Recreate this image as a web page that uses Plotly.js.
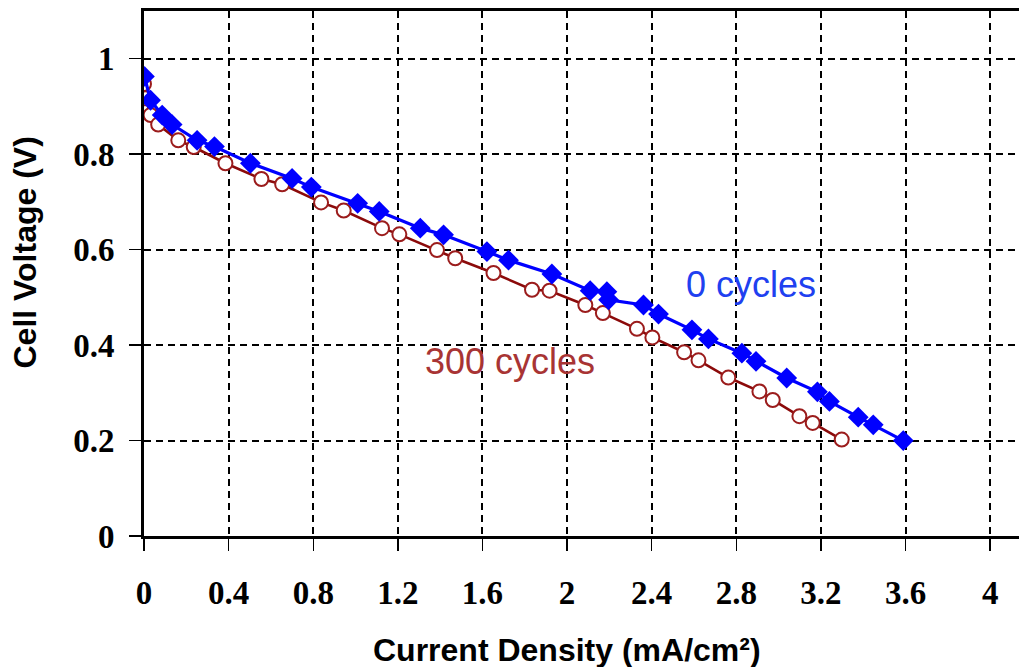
<!DOCTYPE html>
<html>
<head>
<meta charset="utf-8">
<script src="https://cdn.plot.ly/plotly-3.0.1.min.js"></script>
<style>html,body{margin:0;padding:0;background:#fff;}#chart{width:1019px;height:667px;}</style>
</head>
<body>
<div id="chart"></div>
<script>
// 0 cycles
const current0 = [0.002, 0.031, 0.086, 0.133, 0.251, 0.333, 0.503, 0.700, 0.791, 1.010, 1.112, 1.306, 1.416, 1.621, 1.723, 1.928, 2.109, 2.188, 2.196, 2.361, 2.432, 2.590, 2.668, 2.826, 2.893, 3.038, 3.183, 3.240, 3.376, 3.447, 3.589];
const voltage0 = [0.963, 0.913, 0.882, 0.862, 0.829, 0.816, 0.781, 0.749, 0.731, 0.697, 0.680, 0.645, 0.631, 0.596, 0.578, 0.549, 0.514, 0.512, 0.495, 0.484, 0.465, 0.432, 0.413, 0.383, 0.366, 0.331, 0.302, 0.282, 0.249, 0.233, 0.200];
// 300 cycles
const current300 = [0.000, 0.007, 0.031, 0.067, 0.162, 0.235, 0.385, 0.555, 0.653, 0.837, 0.944, 1.125, 1.207, 1.385, 1.471, 1.652, 1.834, 1.917, 2.086, 2.169, 2.330, 2.403, 2.553, 2.621, 2.762, 2.909, 2.972, 3.098, 3.161, 3.298];
const voltage300 = [0.947, 0.917, 0.882, 0.862, 0.829, 0.815, 0.781, 0.748, 0.737, 0.699, 0.682, 0.645, 0.632, 0.599, 0.582, 0.551, 0.516, 0.514, 0.484, 0.467, 0.434, 0.416, 0.385, 0.368, 0.332, 0.303, 0.285, 0.251, 0.237, 0.202];

const xTicks = [0, 0.4, 0.8, 1.2, 1.6, 2, 2.4, 2.8, 3.2, 3.6, 4];
const xTickText = ['0', '0.4', '0.8', '1.2', '1.6', '2', '2.4', '2.8', '3.2', '3.6', '4'];
const yTicks = [0, 0.2, 0.4, 0.6, 0.8, 1];
const yTickText = ['0', '0.2', '0.4', '0.6', '0.8', '1'];

const seriesLabels = ['0 cycles', '300 cycles'];

const traces = [
  {
    x: current300, y: voltage300, mode: 'lines+markers', name: seriesLabels[1],
    line: {color: '#8b0a0a', width: 2.6},
    marker: {symbol: 'circle', size: 14, color: '#ffffff', line: {color: '#9b1c1c', width: 2}}
  },
  {
    x: current0, y: voltage0, mode: 'lines+markers', name: seriesLabels[0],
    line: {color: '#0000ff', width: 3.2},
    marker: {symbol: 'diamond', size: 16, color: '#0000ff', line: {width: 0}}
  }
];

const tickFont = {family: 'Liberation Serif, Times New Roman, serif', size: 33, color: '#000', weight: 'bold'};

const layout = {
  width: 1019, height: 667,
  margin: {l: 143.5, r: 0, t: 11, b: 130.5, pad: 0},
  paper_bgcolor: '#fff', plot_bgcolor: '#fff',
  showlegend: false,
  xaxis: {
    range: [0, 4.136], tickvals: xTicks, ticktext: xTickText,
    showline: true, linecolor: '#000', linewidth: 3, mirror: true,
    ticks: 'outside', ticklen: 12, tickwidth: 1.5, tickcolor: '#000',
    showgrid: true, gridcolor: '#000', gridwidth: 2, griddash: '7px,5px',
    zeroline: false, tickfont: tickFont, ticklabelstandoff: 13
  },
  yaxis: {
    range: [0, 1.1], tickvals: yTicks, ticktext: yTickText,
    showline: true, linecolor: '#000', linewidth: 3,
    ticks: 'outside', ticklen: 12, tickwidth: 1.5, tickcolor: '#000',
    showgrid: true, gridcolor: '#000', gridwidth: 2, griddash: '7px,5px',
    zeroline: false, tickfont: tickFont, ticklabelstandoff: 8
  },
  annotations: [
    {x: 0.4834, y: -0.218, xref: 'paper', yref: 'paper', text: 'Current Density (mA/cm²)', showarrow: false,
     font: {family: 'Liberation Sans, Arial, sans-serif', size: 32, color: '#000', weight: 'bold'}, xanchor: 'center', yanchor: 'middle'},
    {x: -0.136, y: 0.54, xref: 'paper', yref: 'paper', text: 'Cell Voltage (V)', textangle: -90, showarrow: false,
     font: {family: 'Liberation Sans, Arial, sans-serif', size: 32, color: '#000', weight: 'bold'}, xanchor: 'center', yanchor: 'middle'},
    {x: 2.87, y: 0.526, xref: 'x', yref: 'y', text: seriesLabels[0], showarrow: false,
     font: {family: 'Liberation Sans, Arial, sans-serif', size: 36, color: '#2040f0'}, xanchor: 'center', yanchor: 'middle'},
    {x: 1.73, y: 0.365, xref: 'x', yref: 'y', text: seriesLabels[1], showarrow: false,
     font: {family: 'Liberation Sans, Arial, sans-serif', size: 36, color: '#a83434'}, xanchor: 'center', yanchor: 'middle'}
  ]
};

Plotly.newPlot('chart', traces, layout, {displayModeBar: false, staticPlot: true});
</script>
</body>
</html>
